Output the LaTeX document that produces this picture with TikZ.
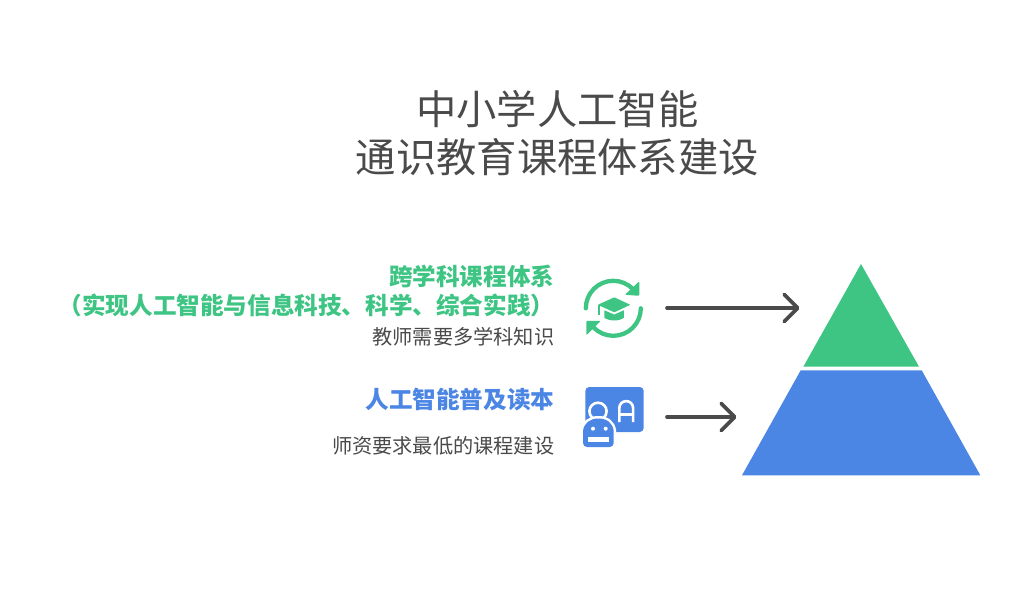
\documentclass[tikz,border=0pt]{standalone}
\usepackage{fontspec}
\setmainfont{Noto Sans CJK SC}
\usetikzlibrary{arrows.meta}
\definecolor{gr}{HTML}{3EC584}
\definecolor{bl}{HTML}{4C86E5}
\definecolor{dk}{HTML}{4A4A4A}
\tikzset{
 title/.style={anchor=base,inner sep=0pt,text=dk,font=\fontsize{40.3}{48}\selectfont},
 head/.style={anchor=base east,inner sep=0pt,font=\fontsize{23.6}{28}\selectfont\bfseries},
 sub/.style={anchor=base east,inner sep=0pt,text=dk,font=\fontsize{20.2}{24}\selectfont},
 conn/.style={draw=dk,line width=3.7pt,line cap=round,-{Straight Barb[length=13.5pt,width=27pt,line width=3.7pt,round]}},
 ico/.style={line width=4.3pt,draw=gr,line cap=round},
 bodyshape/.style={bl}
}
\begin{document}
\begin{tikzpicture}[x=1pt,y=-1pt]
\useasboundingbox (0,0) rectangle (1024,609);
\fill[white] (0,0) rectangle (1024,609);
\node[title] (t1) at (557.3,125) {中小学人工智能};
\node[title] (t2) at (557.3,173) {通识教育课程体系建设};
\node[head,text=gr] (g1) at (554.5,286) {跨学科课程体系};
\node[head,text=gr] (g2) at (554.5,314) {（实现人工智能与信息科技、科学、综合实践）};
\node[sub] (s1) at (554.5,344.6) {教师需要多学科知识};
\node[head,text=bl] (b1) at (554.5,408) {人工智能普及读本};
\node[sub] (s2) at (554.5,453.6) {师资要求最低的课程建设};
% pyramid
\fill[gr] (861,264) -- (919,366.7) -- (803.3,366.7) -- cycle;
\fill[bl] (800.7,370.3) -- (921.7,370.3) -- (980.3,475.3) -- (742,475.3) -- cycle;
% connectors
\coordinate (a1s) at (667,308); \coordinate (a1e) at (799.5,308);
\coordinate (a2s) at (667,417); \coordinate (a2e) at (736.5,417);
\draw[conn] (a1s) -- (a1e);
\draw[conn] (a2s) -- (a2e);
% icon 1
\begin{scope}[shift={(613.3,308.3)}]
\draw[ico] (180:27.5) arc (180:316:27.5);
\draw[ico] (0:27.5) arc (0:136:27.5);
\fill[gr,rounded corners=1pt] (26,-27) -- (26,-12.5) -- (11.5,-13.5) -- cycle;
\fill[gr,rounded corners=1pt] (-27,12.5) -- (-12.5,12.5) -- (-27,27) -- cycle;
\fill[gr,rounded corners=0.5pt] (-15.5,-3.5) -- (1,-11) -- (17,-3.5) -- (1,4) -- cycle;
\fill[gr] (-9,2) -- (1,6.3) -- (10.5,2) -- (10.5,9.5) .. controls (6,13) and (-4,13) .. (-9,9.5) -- cycle;
\draw[gr,line width=2pt] (-14.3,-3) -- (-14.3,7);
\end{scope}
% icon 2
\fill[bl,rounded corners=4pt] (585.3,387) rectangle (643.7,432);
\draw[white,line width=2.6pt,line join=round] (619.3,422) -- (619.3,408) arc (180:360:6.9) -- (633.1,422) (619.3,414.5) -- (633.1,414.5);
\draw[white,line width=2.6pt,fill=bl] (598,411.3) circle (8.6);
\def\bodypath{(583,431) .. controls (584,423) and (590,418.5) .. (598.3,418.5) .. controls (607,418.5) and (612.7,423) .. (613.7,431) -- (613.7,443) arc (0:90:4) -- (587,447) arc (90:180:4) -- cycle}
\path[draw=white,line width=5pt] \bodypath;
\fill[bl] \bodypath;
\fill[white] (593,428.7) circle (2);
\fill[white] (605.7,428.7) circle (2);
\fill[white] (588,437) rectangle (608.7,442);
\end{tikzpicture}
\end{document}
